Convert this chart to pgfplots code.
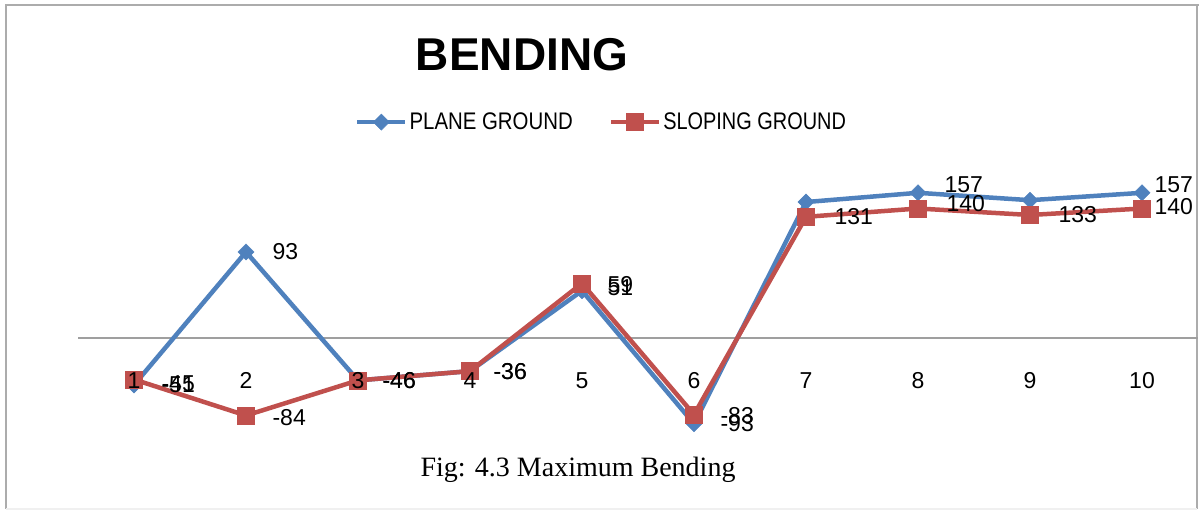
\documentclass[border=0pt]{standalone}
\usepackage{fontspec}
\setmainfont{Liberation Sans}
\newfontfamily\capfont{Liberation Serif}
\usepackage{graphicx}
\usepackage{pgfplots}
\usepackage{pgfplotstable}
\pgfplotsset{compat=1.18}
\definecolor{plane}{HTML}{4F81BD}
\definecolor{slope}{HTML}{C0504D}

% maximum bending per case, with the label printed beside each point
% (dx, dy: offset of that label)
\pgfplotstableread{
x y lab dx dy
1 -51 -51 24 0
2 93 93 23 0
3 -46 -46 21 0
4 -36 -36 20 0
5 51 51 22 3
6 -93 -93 23 0
7 147 {} 23 0
8 157 157 23 8
9 149 {} 23 0
10 157 157 9 8
}\planedata
\pgfplotstableread{
x y lab dx dy
1 -45 -45 24 -4
2 -84 -84 23 -2
3 -46 -46 21 0
4 -36 -36 20 0
5 59 59 22 -1
6 -83 -83 23 -1
7 131 131 25 0
8 140 140 25 5
9 133 133 25 0
10 140 140 9 2
}\slopedata
% case numbers along the zero line, set after the lines so they stay visible
\pgfplotstableread{
x y lab dx dy
1 0 1 0 -31
2 0 2 0 -31
3 0 3 0 -31
4 0 4 0 -31
5 0 5 0 -31
6 0 6 0 -31
7 0 7 0 -31
8 0 8 0 -31
9 0 9 0 -31
10 0 10 0 -31
}\casedata

\begin{document}
\begin{tikzpicture}[x=1pt,y=1pt]
\path[use as bounding box] (0,0) rectangle (1199,510);
% frame around the figure
\draw[gray!65, line width=2.5pt] (6,1) -- (6,505) -- (1199,505);
\draw[gray!65, line width=2pt] (1197,505) -- (1197,1);
\draw[gray!12, line width=1.5pt] (6,1) -- (1197,1);
\node[font=\fontsize{46}{46}\selectfont\bfseries] at (522,455) {BENDING};
\node[font=\fontsize{28}{28}\selectfont\capfont] at (578,40) {Fig: 4.3 Maximum Bending};
\begin{axis}[
  at={(78pt,52pt)}, anchor=south west,
  scale only axis, width=1120pt, height=295.68pt,
  xmin=0.5, xmax=10.5, ymin=-130, ymax=190,
  axis x line=middle, axis y line=none,
  x axis line style={-, draw=gray!75, line width=1.8pt},
  xtick={1,...,10}, xticklabels={}, major tick length=0pt,
  clip=false,
  nodes near coords,
  point meta=explicit symbolic,
  visualization depends on={\thisrow{dx} \as \labdx},
  visualization depends on={\thisrow{dy} \as \labdy},
  nodes near coords align={anchor=west},
  every node near coord/.append style={font=\fontsize{23}{23}\selectfont,
    text=black, xshift=\labdx pt, yshift=\labdy pt},
  legend columns=2,
  legend style={at={(0.4674,1.136)}, anchor=center, draw=none, fill=none,
    font=\fontsize{24}{24}\selectfont,
    /tikz/every even column/.append style={column sep=34pt}},
  legend image code/.code={\draw[mark repeat=2, mark phase=2, #1]
    plot coordinates {(0pt,0pt) (24pt,0pt) (48pt,0pt)};},
]
\addplot[plane, line width=4.5pt, mark=square*, mark size=5.7pt,
  mark options={rotate=45, solid, line width=0.5pt}]
  table[x=x, y=y, meta=lab] {\planedata};
\addlegendentry{\scalebox{0.85}[1]{PLANE GROUND}}
\addplot[slope, line width=4.5pt, mark=square*, mark size=8.5pt,
  mark options={solid, line width=0.5pt}]
  table[x=x, y=y, meta=lab] {\slopedata};
\addlegendentry{\scalebox{0.83}[1]{SLOPING GROUND}}
\addplot[draw=none, mark=none, forget plot,
  nodes near coords align={anchor=north}]
  table[x=x, y=y, meta=lab] {\casedata};
\end{axis}
\end{tikzpicture}
\end{document}
